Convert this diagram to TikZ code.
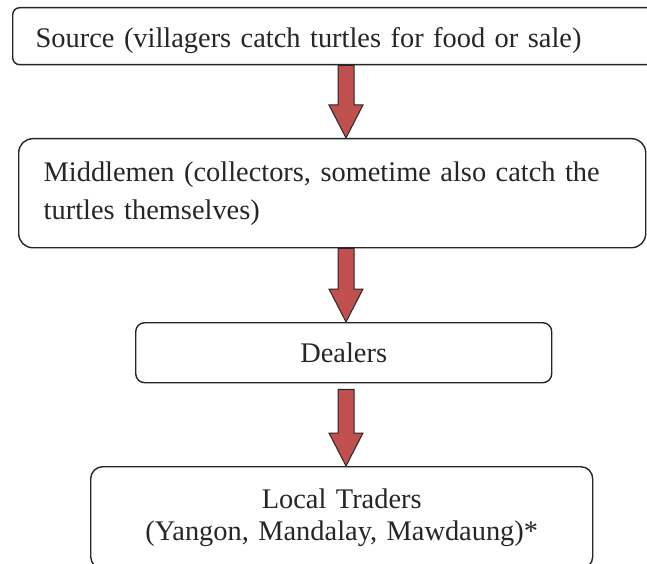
\documentclass[tikz,border=0pt]{standalone}
\usepackage{fontspec}
\setmainfont{Liberation Serif}
\usetikzlibrary{calc}
\definecolor{arrowred}{HTML}{C0504D}
\definecolor{edgegray}{HTML}{262626}
\tikzset{
  box/.style={draw=edgegray, line width=1.4pt, fill=white, anchor=north west,
    inner ysep=0pt, font=\fontsize{28.4}{38}\selectfont, text=black!85},
  blockarrow/.style={draw=edgegray, line width=1pt, fill=arrowred, line join=miter}
}
\newcommand\blockarr[2]{%
  \draw[blockarrow] let \p1=(#1), \p2=(#2) in
    (\x1-8pt,\y1) -- (\x1-8pt,\y2+33pt) -- (\x1-17pt,\y2+33pt) -- (\x2,\y2)
    -- (\x1+17pt,\y2+33pt) -- (\x1+8pt,\y2+33pt) -- (\x1+8pt,\y1) -- cycle;}
\begin{document}
\begin{tikzpicture}[x=1pt,y=-1pt]
\useasboundingbox (0,0) rectangle (647,564);
\clip (0,0) rectangle (647,564);
\coordinate (axis) at (346,0);
\node[box, rounded corners=7pt, minimum width=688pt, minimum height=57pt,
  inner xsep=23pt, text width=642pt, align=left, text height=28pt, text depth=5pt] (src) at (12,7)
  {Source (villagers catch turtles for food or sale)};
\node[box, rounded corners=14pt, minimum width=627pt, minimum height=109pt,
  inner xsep=25pt, text width=577pt, align=left] (mid) at (18,138)
  {Middlemen (collectors, sometime also catch the\\turtles themselves)};
\node[box, rounded corners=9pt, minimum width=416pt, minimum height=60pt,
  inner xsep=0pt, text width=416pt, align=center] (deal) at (135,322)
  {Dealers};
\node[box, rounded corners=12pt, minimum width=502pt, minimum height=102pt,
  inner xsep=0pt, text width=502pt, align=center,
  font=\fontsize{28.4}{32}\selectfont] (local) at (90,466)
  {Local Traders\\(Yangon, Mandalay, Mawdaung)*};
\coordinate (a1s) at (axis |- src.south);
\coordinate (a1e) at (axis |- mid.north);
\coordinate (a2s) at (axis |- mid.south);
\coordinate (a2e) at (axis |- deal.north);
\coordinate (a3s) at ($(axis |- deal.south)+(0,6)$);
\coordinate (a3e) at (axis |- local.north);
\blockarr{a1s}{a1e}
\blockarr{a2s}{a2e}
\blockarr{a3s}{a3e}
\end{tikzpicture}
\end{document}
